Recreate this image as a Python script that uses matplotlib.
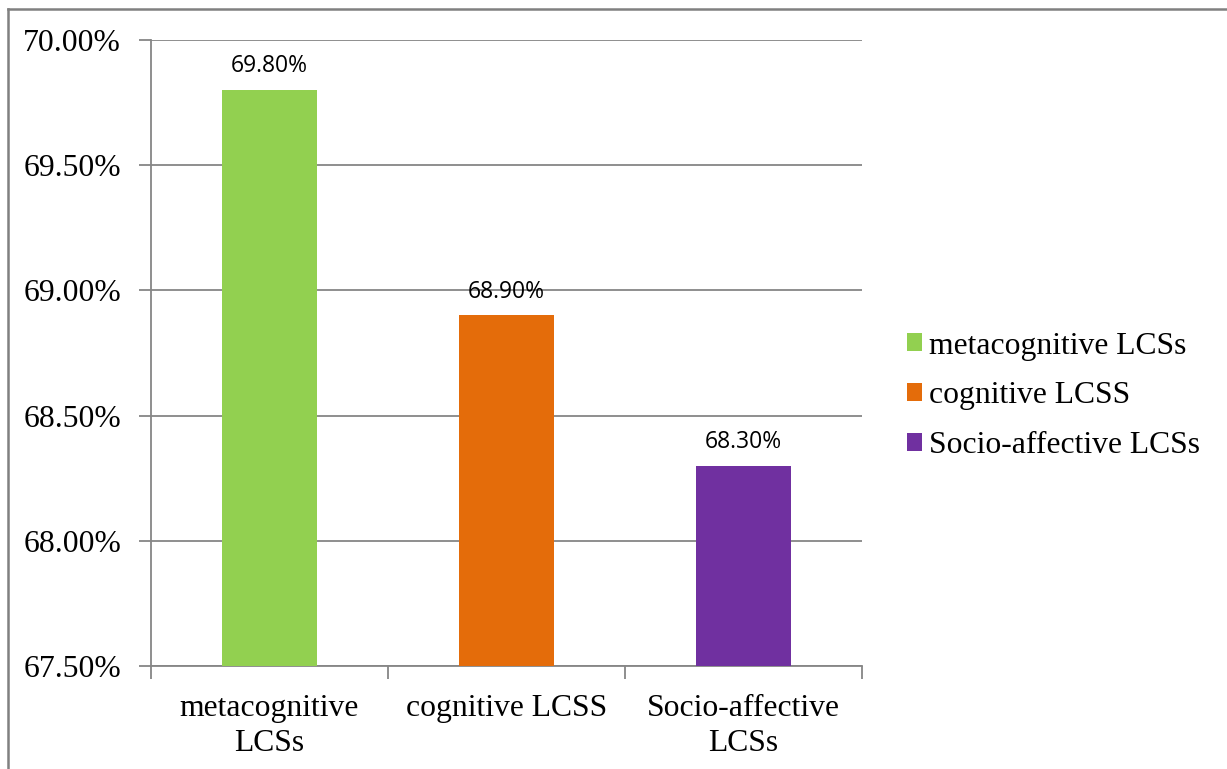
import matplotlib
matplotlib.use("Agg")
import matplotlib.pyplot as plt
from matplotlib.lines import Line2D
from matplotlib.patches import Patch

categories = ["metacognitive\nLCSs", "cognitive LCSS", "Socio-affective\nLCSs"]
legend_labels = ["metacognitive LCSs", "cognitive LCSS", "Socio-affective LCSs"]
values = [69.80, 68.90, 68.30]
colors = ["#92D050", "#E46C0A", "#7030A0"]
yticks = [67.5, 68.0, 68.5, 69.0, 69.5, 70.0]

W, H = 1227, 769
fig = plt.figure(figsize=(W / 100, H / 100), dpi=100)
ax = fig.add_axes([151 / W, 1 - 666 / H, (862 - 151) / W, (666 - 40) / H])

grid_c = "#868686"
FS = 22.8
x = list(range(len(values)))
ax.bar(x, [v - 67.5 for v in values], bottom=67.5, width=0.4, color=colors, zorder=3)
ax.set_xlim(-0.5, 2.5)
ax.set_ylim(67.5, 70.0)
ax.set_yticks(yticks)
ax.set_yticklabels([f"{t:.2f}%" for t in yticks], fontsize=FS, family="Liberation Serif")
ax.yaxis.grid(True, color=grid_c, linewidth=1.3, zorder=0)
ax.set_xticks([-0.5, 0.5, 1.5, 2.5])
ax.set_xticklabels([])
ax.set_xticks(x, minor=True)
ax.set_xticklabels(categories, minor=True, fontsize=FS, family="Liberation Serif", linespacing=1.3)
ax.tick_params(axis="x", which="minor", length=0, pad=20)
ax.tick_params(axis="x", which="major", length=9, width=1.3, color=grid_c)
ax.tick_params(axis="y", length=9, width=1.3, color=grid_c, pad=12.5)
for s in ["top", "right"]:
    ax.spines[s].set_visible(False)
for s in ["left", "bottom"]:
    ax.spines[s].set_color(grid_c)
    ax.spines[s].set_linewidth(1.3)

for xi, v in zip(x, values):
    ax.annotate(f"{v:.2f}%", (xi, v), xytext=(0, 17), textcoords="offset points",
                ha="center", va="center", fontsize=16.5, family="Open Sans")

handles = [Patch(facecolor=c, edgecolor="none") for c in colors]
fig.legend(handles, legend_labels, loc="center left", bbox_to_anchor=(878 / W, 1 - 396 / H),
           frameon=False, prop={"family": "Liberation Serif", "size": FS},
           handlelength=0.5, handleheight=0.5, handletextpad=0.22, labelspacing=0.66)

fig.add_artist(Line2D([8 / W, 8 / W], [0, 1 - 9 / H], transform=fig.transFigure, color="#808080", linewidth=1.8))
fig.add_artist(Line2D([8 / W, 1], [1 - 9 / H, 1 - 9 / H], transform=fig.transFigure, color="#808080", linewidth=1.8))

fig.savefig("out.png", dpi=100)
